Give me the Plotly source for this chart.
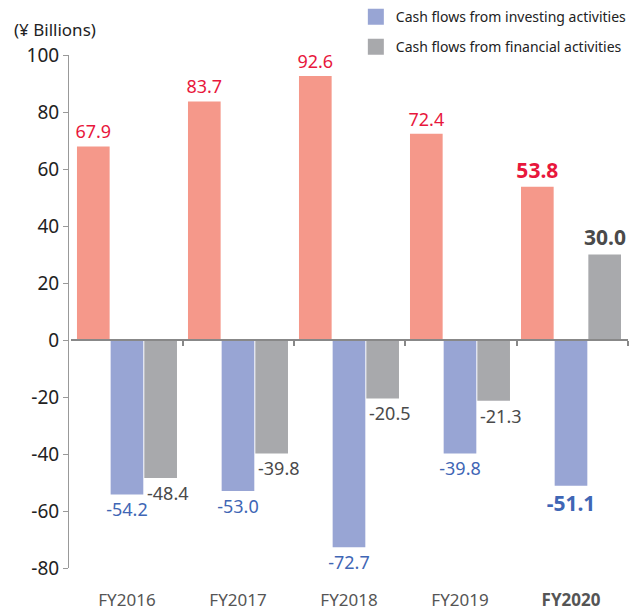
import plotly.graph_objects as go

# Fiscal years and cash flow components (¥ billions)
years = ["FY2016", "FY2017", "FY2018", "FY2019", "FY2020"]
operating = [67.9, 83.7, 92.6, 72.4, 53.8]
investing = [-54.2, -53.0, -72.7, -39.8, -51.1]
financial = [-48.4, -39.8, -20.5, -21.3, 30.0]

series_names = [
    "Cash flows from operating activities",
    "Cash flows from investing activities",
    "Cash flows from financial activities",
]
bar_colors = ["#f5988a", "#98a5d4", "#a8a9ac"]
label_colors = ["#e8173c", "#3f66b5", "#4a4a4a"]

y_min, y_max, y_step = -80, 100, 20

FONT = "Noto Sans"
last = len(years) - 1


def labels(values):
    out = []
    for i, v in enumerate(values):
        s = f"{v:.1f}"
        out.append(f"<b>{s}</b>" if i == last else s)
    return out


sizes = [18] * last + [21]

fig = go.Figure()

fig.add_trace(go.Bar(
    x=years, y=operating, name=series_names[0],
    marker=dict(color=bar_colors[0], line=dict(width=0)),
    text=labels(operating), textposition="outside", cliponaxis=False,
    constraintext="none",
    textfont=dict(color=label_colors[0], size=sizes, family=FONT),
    showlegend=False,
))
fig.add_trace(go.Bar(
    x=years, y=investing, name=series_names[1],
    marker=dict(color=bar_colors[1], line=dict(width=0)),
    text=labels(investing), textposition="outside", cliponaxis=False,
    constraintext="none",
    textfont=dict(color=label_colors[1], size=sizes, family=FONT),
    showlegend=False,
))
fig.add_trace(go.Bar(
    x=years, y=financial, name=series_names[2],
    marker=dict(color=bar_colors[2], line=dict(width=0)),
    showlegend=False,
))

# Financial-activity labels: negatives sit just past the bar's left edge
for i, (yr, v) in enumerate(zip(years, financial)):
    txt = labels(financial)[i]
    if v < 0:
        fig.add_annotation(x=yr, y=v, text=txt, showarrow=False,
                           xanchor="left", yanchor="top", xshift=18, yshift=-1,
                           font=dict(color=label_colors[2], size=sizes[i], family=FONT))
    else:
        fig.add_annotation(x=yr, y=v, text=txt, showarrow=False,
                           xanchor="center", yanchor="bottom", xshift=34, yshift=2,
                           font=dict(color=label_colors[2], size=sizes[i], family=FONT))

# Legend entries as square markers, one group each for wider row spacing
for k, (name, col) in enumerate(zip(series_names, bar_colors)):
    fig.add_trace(go.Scatter(
        x=[None], y=[None], mode="markers", name=name,
        marker=dict(symbol="square", size=16, color=col),
        legendgroup=f"g{k}", showlegend=True,
    ))

tick_text = [f"<b>{y}</b>" if i == last else y for i, y in enumerate(years)]
boundaries = [i + 0.5 for i in range(len(years))]
y_ticks = list(range(y_min, y_max + 1, y_step))
y_tick_text = [str(v) for v in y_ticks]  # plain hyphen for negatives

fig.update_layout(
    width=630, height=610,
    margin=dict(l=68, r=2, t=55, b=42, autoexpand=False),
    paper_bgcolor="white", plot_bgcolor="white",
    barmode="group", bargap=0.09, bargroupgap=0.03,
    font=dict(family=FONT, color="#222"),
    xaxis=dict(
        domain=[0.0062, 1],
        type="category", categoryorder="array", categoryarray=years,
        tickvals=years, ticktext=tick_text,
        showline=False, showgrid=False, zeroline=False,
        ticks="outside", ticklen=17, tickcolor="rgba(0,0,0,0)",
        tickfont=dict(size=17, color="#555", family=FONT),
    ),
    xaxis2=dict(
        overlaying="x", anchor="free", position=(0 - y_min) / (y_max - y_min),
        side="bottom",
        range=[-0.5, len(years) - 0.5], tickvals=boundaries,
        showticklabels=False, showgrid=False, zeroline=False,
        showline=True, linecolor="#888", linewidth=1.5,
        ticks="outside", ticklen=5, tickcolor="#888", tickwidth=1.5,
    ),
    yaxis=dict(
        anchor="free", position=0,
        range=[y_min, y_max], tickvals=y_ticks, ticktext=y_tick_text,
        showline=True, linecolor="#999", linewidth=1,
        ticks="outside", ticklen=5, tickcolor="#999",
        showgrid=False, zeroline=False,
        tickfont=dict(size=19, color="#222", family=FONT),
    ),
    legend=dict(
        x=0.514, y=1.164, xanchor="left", yanchor="top",
        traceorder="grouped", tracegroupgap=9,
        font=dict(size=14, color="#222", family=FONT),
        bgcolor="rgba(0,0,0,0)", itemwidth=30,
    ),
)

# Placeholder trace so xaxis2 is drawn
fig.add_trace(go.Scatter(x=[None], y=[None], xaxis="x2", showlegend=False))

fig.add_annotation(text="(¥ Billions)", xref="paper", yref="paper",
                   x=-0.1, y=1.0, xanchor="left", yanchor="bottom", yshift=12,
                   showarrow=False, font=dict(size=17, color="#222", family=FONT))

fig.write_html("out.html")
